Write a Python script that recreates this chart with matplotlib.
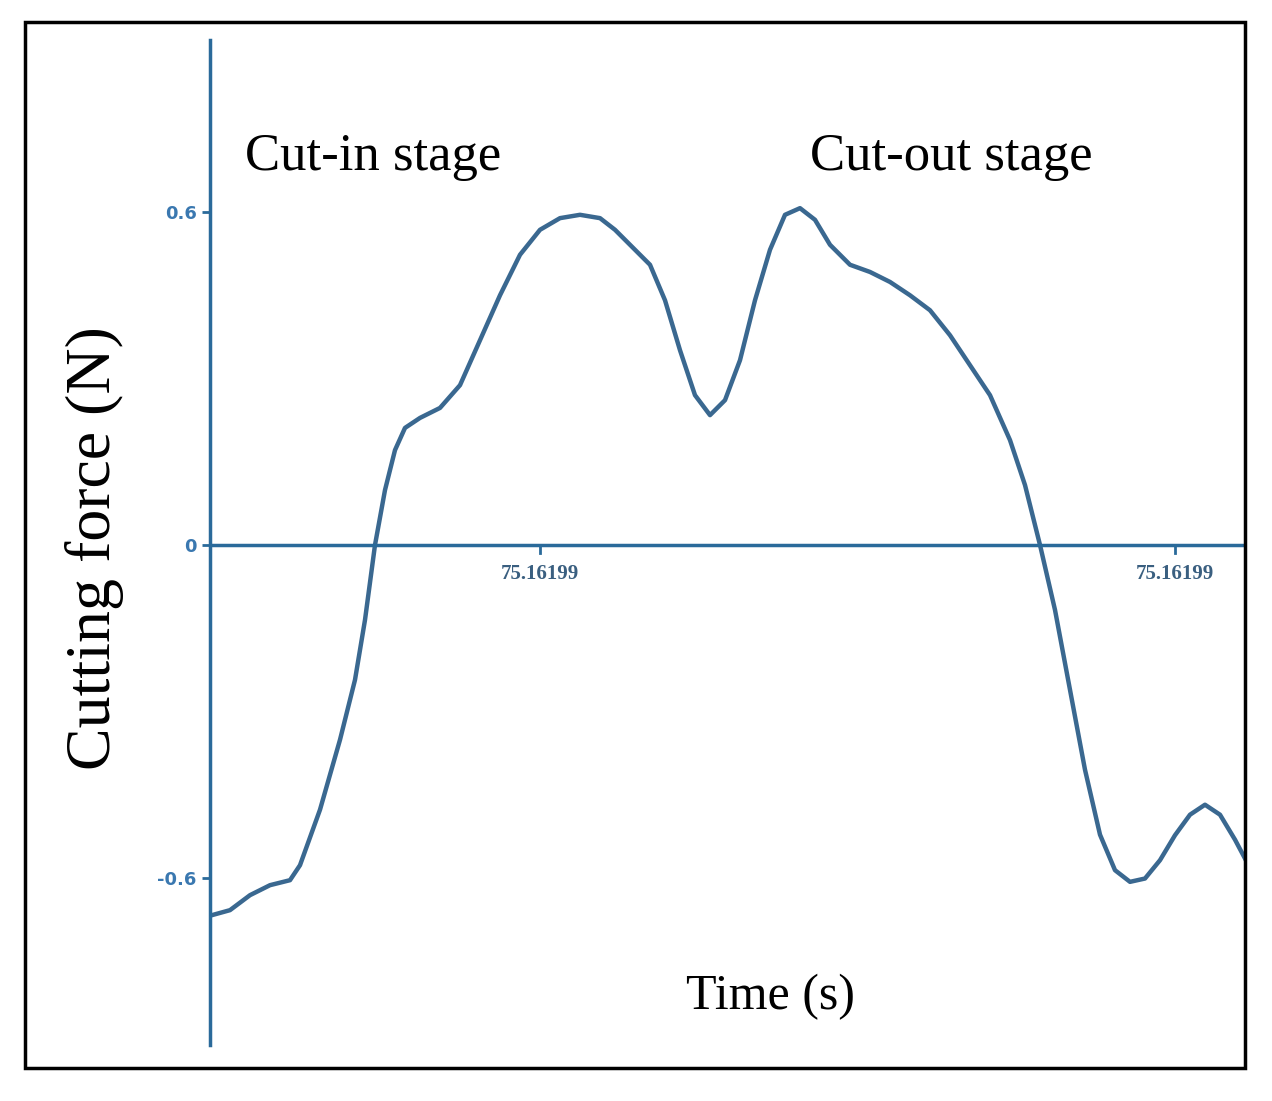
import numpy as np
import matplotlib.pyplot as plt
from matplotlib.patches import Rectangle

# time offsets (arbitrary units along the axis) and cutting force (N)
time = [2, 20, 40, 60, 80, 90, 110, 130, 145, 155, 165, 175, 185, 195, 210, 230, 250, 270,
        290, 310, 330, 350, 370, 390, 405, 420, 440, 455, 470, 485, 500, 515, 530, 545, 560,
        575, 590, 605, 620, 640, 660, 680, 700, 720, 740, 760, 780, 800, 815, 830, 845, 860,
        875, 890, 905, 920, 935, 950, 965, 980, 995, 1010, 1025, 1035]
force = [-0.667, -0.658, -0.631, -0.613, -0.604, -0.577, -0.477, -0.351, -0.243, -0.135, 0.0,
         0.099, 0.171, 0.211, 0.229, 0.247, 0.288, 0.369, 0.450, 0.523, 0.568, 0.589, 0.595,
         0.589, 0.568, 0.541, 0.505, 0.441, 0.351, 0.270, 0.234, 0.261, 0.333, 0.441, 0.532,
         0.595, 0.607, 0.586, 0.541, 0.505, 0.492, 0.474, 0.450, 0.423, 0.378, 0.324, 0.270,
         0.189, 0.108, 0.0, -0.117, -0.261, -0.405, -0.522, -0.586, -0.607, -0.601, -0.568,
         -0.523, -0.486, -0.468, -0.486, -0.531, -0.565]
tick_pos = [330, 965]
tick_labels = ['75.16199', '75.16199']
ytick_pos = [-0.6, 0, 0.6]
ytick_labels = ['-0.6', '0', '0.6']

blue = '#3a6890'
serif = 'Liberation Serif'
W, H = 1272, 1101
fig = plt.figure(figsize=(W / 100, H / 100), dpi=100)
fig.patches.append(Rectangle((25 / W, 1 - 1068 / H), 1220 / W, 1046 / H, transform=fig.transFigure,
                             fill=False, edgecolor='black', linewidth=2.5))
ax = fig.add_axes([210 / W, 1 - 1045 / H, 1035 / W, 1005 / H])
ax.plot(time, force, color=blue, linewidth=3.2)
ax.axhline(0, color='#2a6a9a', linewidth=2.5)
ax.set_xlim(0, 1035)
ax.set_ylim(-0.901, 0.910)
for s in ['top', 'right', 'bottom']:
    ax.spines[s].set_visible(False)
ax.spines['left'].set_color('#2a6a9a')
ax.spines['left'].set_linewidth(2.5)
ax.set_yticks(ytick_pos)
ax.set_yticklabels(ytick_labels, color='#3a78b0', fontsize=13, fontweight='bold')
ax.tick_params(axis='y', length=6, color='#2a6a9a', width=2)
ax.set_xticks([])
for p, lab in zip(tick_pos, tick_labels):
    ax.plot([p, p], [0, -0.015], color='#2a6a9a', linewidth=2)
    ax.text(p, -0.035, lab, ha='center', va='top', fontsize=15, color='#3a5f80',
            family=serif, fontweight='bold')
ax.text(35, 0.70, 'Cut-in stage', fontsize=38, family=serif, va='center')
ax.text(600, 0.70, 'Cut-out stage', fontsize=38, family=serif, va='center')
ax.text(560, -0.815, 'Time (s)', fontsize=36, family=serif, ha='center', va='center')
fig.text(95 / W, 1 - 548 / H, 'Cutting force (N)', fontsize=46, family=serif,
         rotation=90, ha='center', va='center')
fig.savefig('out.png', dpi=100)
